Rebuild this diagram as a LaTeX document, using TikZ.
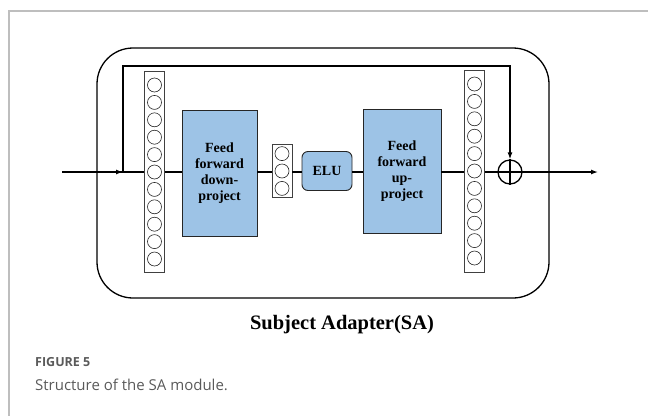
\documentclass[tikz,border=0pt]{standalone}
\usepackage{fontspec}
\setmainfont{Liberation Serif}
\newfontfamily\capfont{Open Sans}
\usepackage{xcolor}
\usetikzlibrary{arrows.meta, positioning, calc}
\definecolor{ffblue}{RGB}{157,195,230}
\definecolor{framegray}{RGB}{190,190,190}
\definecolor{capgray}{RGB}{90,90,90}

\begin{document}
\begin{tikzpicture}[x=1pt, y=-1pt, font=\bfseries,
  ffbox/.style={draw=black!85, fill=ffblue, line width=0.9pt, align=center,
    inner sep=0pt, font=\fontsize{14}{16}\selectfont\bfseries},
  layer/.style={draw=black!75, line width=0.8pt, minimum width=20pt, inner sep=0pt},
  unit/.style={circle, draw=black!85, line width=0.6pt, minimum size=14pt, inner sep=0pt},
  link/.style={line width=1.3pt},
  flow/.style={link, -{Latex[length=7pt,width=5pt]}}]
  \useasboundingbox (0,0) rectangle (648,416);
  % ---- page frame ----
  \draw[framegray, line width=1.2pt] (648,11) -- (9,11) -- (9,416);
  % ---- adapter outline ----
  \draw[line width=1.3pt, rounded corners=36pt] (97,48) rectangle (549,298);
  % ---- layers ----
  \node[layer, minimum height=201pt] (lcol) at (154.5,172) {};
  \foreach \i in {0,...,10}
    \node[unit] (l\i) at (154.5, 85+17.4*\i) {};
  \node[ffbox, minimum width=75pt, minimum height=126pt] (down) at (219.5,173)
    {Feed\\forward\\down-\\project};
  \node[layer, minimum height=53pt] (scol) at (282,171) {};
  \foreach \i in {0,1,2}
    \node[unit] (s\i) at (282, 153.6+17.4*\i) {};
  \node[ffbox, rounded corners=6pt, minimum width=50pt, minimum height=39pt] (elu) at (327,171) {ELU};
  \node[ffbox, minimum width=78pt, minimum height=124pt] (up) at (402,171)
    {Feed\\forward\\up-\\project};
  \node[layer, minimum height=202pt] (rcol) at (474.5,171) {};
  \foreach \i in {0,...,10}
    \node[unit] (r\i) at (474.5, 84+17.4*\i) {};
  \node[circle, draw, line width=1.3pt, minimum size=24pt, inner sep=0pt] (add) at (510,172) {};
  \draw[line width=1.3pt] (add.north) -- (add.south) (add.west) -- (add.east);
  % ---- connectors ----
  \coordinate (in) at (62,172);
  \coordinate (split) at (123,172);
  \coordinate (out) at (598,172);
  \draw[link] (in) -- (lcol.west);
  \draw[flow] (in) -- (split);
  \draw[flow] (split) -- ++(0,-106) -| (add.north);
  \draw[link] (lcol.east |- split) -- (down.west |- split);
  \draw[link] (down.east |- split) -- (scol.west |- split);
  \draw[link] (scol.east |- split) -- (elu.west |- split);
  \draw[link] (elu.east |- split) -- (up.west |- split);
  \draw[link] (up.east |- split) -- (rcol.west |- split);
  \draw[link] (rcol.east |- split) -- (add.west);
  \draw[flow] (add.east) -- (out);
  % ---- labels ----
  \node (title) at (342,325) {\fontsize{20.5}{22}\selectfont Subject Adapter(SA)};
  \node[anchor=west, text=capgray, inner sep=0pt] (fig) at (35,362)
    {\capfont\bfseries\fontsize{12.5}{14}\selectfont FIGURE 5};
  \node[anchor=west, text=capgray, inner sep=0pt] (cap) at (35,385)
    {\capfont\mdseries\fontsize{15}{17}\selectfont Structure of the SA module.};
\end{tikzpicture}
\end{document}
